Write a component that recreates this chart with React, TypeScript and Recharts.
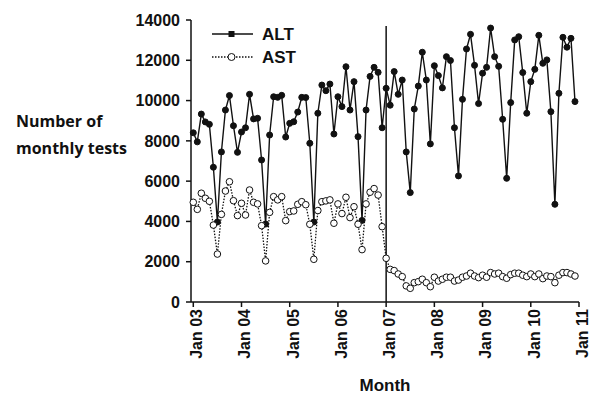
import { Line, LineChart, ReferenceLine, XAxis, YAxis } from "recharts"

const yearLabels = ["Jan 03", "Jan 04", "Jan 05", "Jan 06", "Jan 07", "Jan 08", "Jan 09", "Jan 10", "Jan 11"]
const yTicks = [0, 2000, 4000, 6000, 8000, 10000, 12000, 14000]

// monthly counts, Jan 2003 .. Dec 2010
const alt = [
  8400, 7950, 9330, 8940, 8820, 6690, 3970, 7450, 9530, 10250, 8750, 7430,
  8440, 8650, 10310, 9090, 9120, 7050, 3870, 8290, 10190, 10160, 10260, 8190,
  8870, 8950, 9430, 10160, 10150, 7880, 3970, 9370, 10770, 10490, 10820, 8340,
  10190, 9700, 11680, 9530, 10940, 8210, 4050, 9530, 11200, 11650, 11400, 8650,
  10610, 9770, 11440, 10310, 11020, 7450, 5430, 9580, 10720, 12400, 11020, 7850,
  11730, 11240, 10630, 12180, 11990, 8650, 6260, 10060, 12560, 13290, 11750, 9850,
  11360, 11650, 13600, 12180, 11700, 9070, 6140, 9900, 13010, 13170, 11390, 9370,
  10940, 11550, 13240, 11850, 12020, 9450, 4850, 10360, 13140, 12650, 13090, 9950,
]
const ast = [
  4950, 4600, 5400, 5150, 5000, 3820, 2380, 4350, 5510, 5970, 5030, 4290,
  4900, 4320, 5560, 4950, 4870, 3790, 2040, 4450, 5230, 5070, 5230, 4040,
  4490, 4520, 4850, 4980, 4830, 3860, 2120, 4540, 4980, 5020, 5070, 3910,
  4870, 4390, 5200, 4190, 4730, 3860, 2600, 4870, 5450, 5630, 5310, 3740,
  2170, 1620, 1560, 1390, 1260, 800, 680, 960, 1010, 1130, 960, 760,
  1230, 1040, 1130, 1230, 1230, 1040, 1090, 1230, 1290, 1430, 1290, 1210,
  1330, 1230, 1460, 1390, 1430, 1260, 1180, 1360, 1430, 1430, 1330, 1260,
  1390, 1260, 1390, 1160, 1290, 1260, 960, 1330, 1460, 1460, 1390, 1290,
]

const data = alt.map((v, i) => ({ t: i, ALT: v, AST: ast[i] }))
const xTicks = yearLabels.map((_, i) => i * 12)
const font = "'Liberation Sans', Arial, sans-serif"

function YearTick({ x, y, payload }: any) {
  return (
    <g transform={`translate(${x},${y})`}>
      <text transform="rotate(-90)" textAnchor="end" dy="0.55em" fontFamily={font} fontWeight="bold" fontSize={16} fill="#111">
        {yearLabels[Math.round(payload.value / 12)]}
      </text>
    </g>
  )
}

function LegendBox() {
  return (
    <svg width={110} height={44} style={{ position: "absolute", left: 210, top: 24 }}>
      <line x1={2} y1={10} x2={43} y2={10} stroke="#111" strokeWidth={1.6} />
      <rect x={18.5} y={7} width={6} height={6} fill="#111" />
      <text x={52} y={16} fontFamily={font} fontWeight="bold" fontSize={17} fill="#111">ALT</text>
      <line x1={2} y1={33} x2={43} y2={33} stroke="#111" strokeWidth={1.4} strokeDasharray="1.5 1.5" />
      <circle cx={21.5} cy={33} r={3.5} fill="#fff" stroke="#111" strokeWidth={1} />
      <text x={52} y={39} fontFamily={font} fontWeight="bold" fontSize={17} fill="#111">AST</text>
    </svg>
  )
}

export default function App() {
  return (
    <div style={{ position: "absolute", left: 0, top: 0, width: 589, height: 397, background: "#fff" }}>
      <LineChart width={589} height={397} data={data} margin={{ top: 20, right: 10, left: 0, bottom: 0 }}>
        <XAxis
          dataKey="t"
          type="number"
          domain={[-0.57, 96]}
          ticks={xTicks}
          interval={0}
          height={95}
          tick={<YearTick />}
          tickSize={5}
          tickLine={{ stroke: "#111", strokeWidth: 1.5 }}
          axisLine={{ stroke: "#111", strokeWidth: 1.5 }}
          label={{ value: "Month", position: "insideBottom", offset: 6, style: { fontFamily: font, fontWeight: "bold", fontSize: 17, fill: "#111" } }}
        />
        <YAxis
          domain={[0, 14000]}
          ticks={yTicks}
          width={191}
          tickSize={5}
          tickMargin={6}
          tick={{ fontFamily: font, fontWeight: "bold", fontSize: 16, fill: "#111" }}
          tickLine={{ stroke: "#111", strokeWidth: 1.5 }}
          axisLine={{ stroke: "#111", strokeWidth: 1.5 }}
        />
        <ReferenceLine segment={[{ x: 48, y: 0 }, { x: 48, y: 13700 }]} stroke="#111" strokeWidth={1.5} />
        <Line dataKey="ALT" stroke="#111" strokeWidth={1.4} dot={{ r: 3, fill: "#111", stroke: "#111", strokeWidth: 1 }} isAnimationActive={false} />
        <Line dataKey="AST" stroke="#111" strokeWidth={1.3} strokeDasharray="1.5 1.5" dot={{ r: 3.3, fill: "#fff", stroke: "#111", strokeWidth: 1, strokeDasharray: "" }} isAnimationActive={false} />
      </LineChart>
      <LegendBox />
      <div style={{ position: "absolute", left: 16, top: 108, fontFamily: "'Open Sans', sans-serif", fontWeight: "bold", fontSize: 16, lineHeight: "27px", color: "#111" }}>
        Number of<br />monthly tests
      </div>
    </div>
  )
}
